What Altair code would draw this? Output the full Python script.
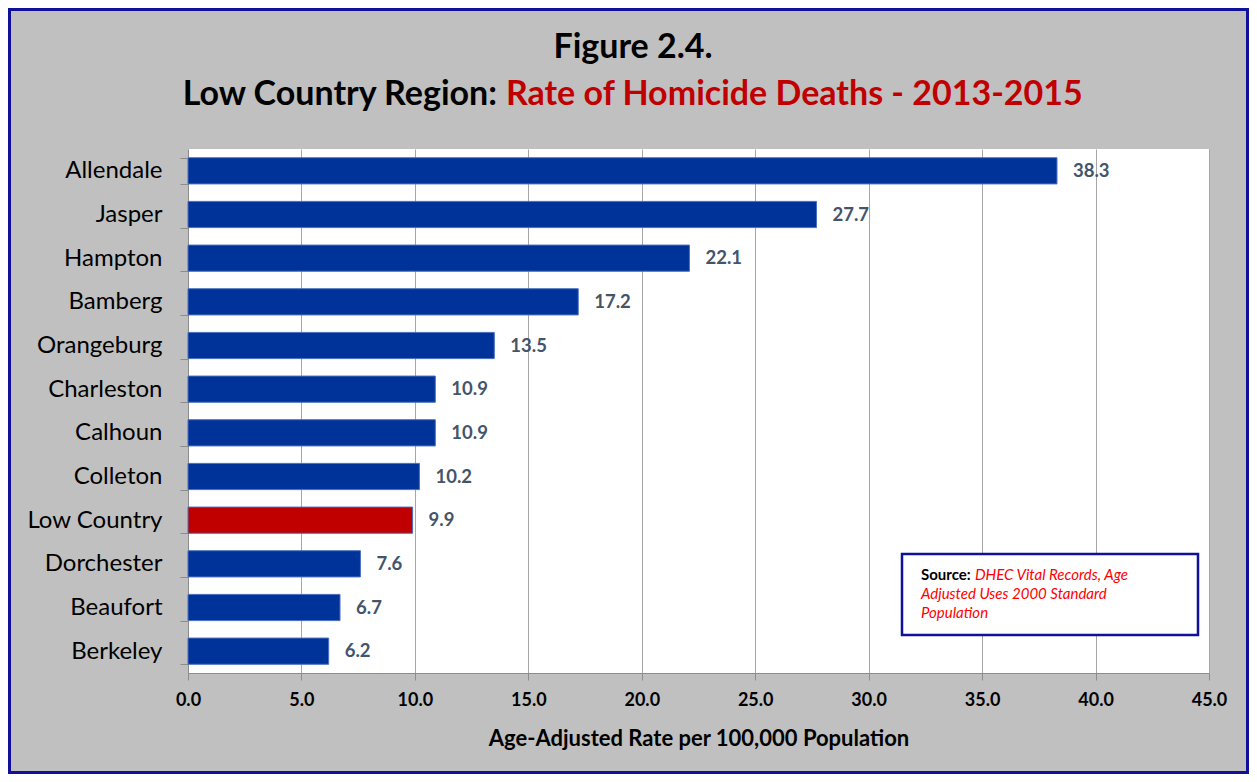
import altair as alt
import pandas as pd

# ---- data ----
counties = ["Allendale", "Jasper", "Hampton", "Bamberg", "Orangeburg", "Charleston",
            "Calhoun", "Colleton", "Low Country", "Dorchester", "Beaufort", "Berkeley"]
rates = [38.3, 27.7, 22.1, 17.2, 13.5, 10.9, 10.9, 10.2, 9.9, 7.6, 6.7, 6.2]
highlight = "Low Country"
x_ticks = [0, 5, 10, 15, 20, 25, 30, 35, 40, 45]

title_line1 = "Figure 2.4."
title_black = "Low Country Region:"
title_red = "Rate of Homicide Deaths - 2013-2015"
x_title = "Age-Adjusted Rate per 100,000 Population"
source_label = "Source:"
source_lines = ["DHEC Vital Records, Age", "Adjusted Uses 2000 Standard", "Population"]

FONT = "Lato"
W, H = 1021, 524
PAD = {"left": 180, "top": 141, "right": 40, "bottom": 101}

df = pd.DataFrame({
    "county": counties,
    "rate": rates,
    "group": ["region" if c == highlight else "county" for c in counties],
})

y_enc = alt.Y("county:N", sort=counties, title=None,
              scale=alt.Scale(paddingInner=0.4, paddingOuter=0.2),
              axis=alt.Axis(labelFont=FONT, labelFontSize=24, labelColor="black",
                            labelPadding=18, tickBand="extent", tickSize=8,
                            tickColor="#8C8C8C", domainColor="#8C8C8C", grid=False))
x_enc = alt.X("rate:Q", scale=alt.Scale(domain=[0, 45], nice=False),
              axis=alt.Axis(values=x_ticks, format=".1f", title=x_title,
                            labelFont=FONT, labelFontSize=18, labelFontWeight="bold",
                            labelColor="black", labelPadding=11, tickSize=7,
                            labelFlush=False,
                            tickColor="#8C8C8C", domainColor="#8C8C8C",
                            grid=True, gridColor="#A6A6A6",
                            titleFont=FONT, titleFontSize=22, titleFontWeight="bold",
                            titleColor="black", titlePadding=19))

bars = alt.Chart(df).mark_bar(stroke="#4A6FC0", strokeWidth=1).encode(
    y=y_enc, x=x_enc,
    color=alt.Color("group:N", scale=alt.Scale(domain=["county", "region"],
                                               range=["#003399", "#C00000"]), legend=None),
)

labels = alt.Chart(df).mark_text(align="left", baseline="middle", dx=16, font=FONT,
                                 fontSize=18.5, fontWeight="bold", color="#44546A").encode(
    y=alt.Y("county:N", sort=counties), x="rate:Q", text=alt.Text("rate:Q", format=".1f"))


def note(text, x, y, **kw):
    return alt.Chart(pd.DataFrame({"t": [text]})).mark_text(baseline="middle", font=FONT, **kw).encode(
        x=alt.value(x), y=alt.value(y), text="t:N")


t1 = note(title_line1, 445, -101, align="center", fontSize=34, fontWeight="bold", color="black")
t2a = note(title_black, 309, -54, align="right", fontSize=34, fontWeight="bold", color="black")
t2b = note(title_red, 318, -54, align="left", fontSize=34, fontWeight="bold", color="#C00000")

box = alt.Chart(pd.DataFrame({"a": [0]})).mark_rect(fill="white", stroke="#10109A", strokeWidth=2.5).encode(
    x=alt.value(714), x2=alt.value(1010), y=alt.value(405), y2=alt.value(486))
s0 = note(source_label, 733, 426, align="left", fontSize=15, fontWeight="bold", color="black")
s1 = note(source_lines[0], 787, 426, align="left", fontSize=15, fontStyle="italic", color="#FF0000")
s2 = note(source_lines[1], 733, 445, align="left", fontSize=15, fontStyle="italic", color="#FF0000")
s3 = note(source_lines[2], 733, 464, align="left", fontSize=15, fontStyle="italic", color="#FF0000")

border = alt.Chart(pd.DataFrame({"a": [0]})).mark_rect(fillOpacity=0, stroke="#10109A", strokeWidth=3).encode(
    x=alt.value(-PAD["left"] + 1.5), x2=alt.value(W + PAD["right"] - 1.5),
    y=alt.value(-PAD["top"] + 1.5), y2=alt.value(H + PAD["bottom"] - 1.5))

chart = alt.layer(bars, labels, t1, t2a, t2b, box, s0, s1, s2, s3, border).properties(
    width=W, height=H, padding=PAD, autosize=alt.AutoSizeParams(type="none"),
    background="#C0C0C0",
).configure_view(fill="white", strokeWidth=0)

chart.save("out.html", embed_options={"renderer": "svg", "actions": False})
